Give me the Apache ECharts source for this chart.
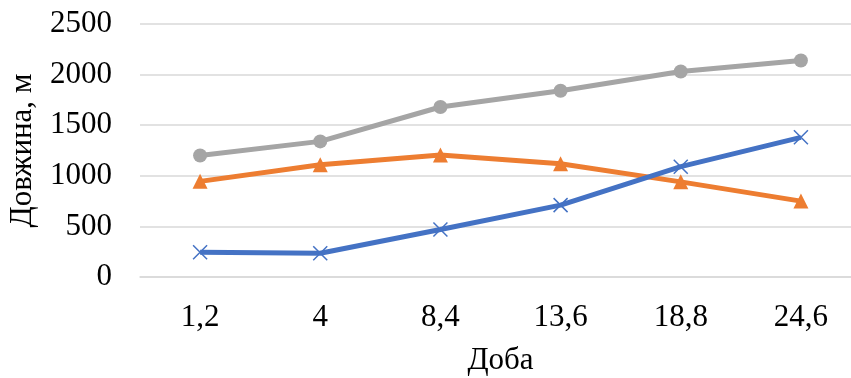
<!DOCTYPE html>
<html>
<head>
<meta charset="utf-8">
<script src="https://cdn.jsdelivr.net/npm/echarts@6/dist/echarts.min.js"></script>
<style>
  html, body { margin: 0; padding: 0; background: #fff; }
  #chart { width: 851px; height: 378px; }
</style>
</head>
<body>
<div id="chart"></div>
<script>
// Days (category labels)
const days = ['1,2', '4', '8,4', '13,6', '18,8', '24,6'];
// Lengths, m
const seriesBlue = [245, 235, 470, 710, 1090, 1380];
const seriesOrange = [945, 1110, 1205, 1120, 940, 750];
const seriesGray = [1200, 1340, 1680, 1840, 2030, 2140];

const yMin = 0, yMax = 2500, yStep = 500;

const font = '"Liberation Serif", "Times New Roman", serif';

const chart = echarts.init(document.getElementById('chart'), null, { renderer: 'canvas' });

function line(data, color, symbol, size) {
  return {
    type: 'line',
    data: data,
    symbol: symbol,
    symbolSize: size,
    showSymbol: true,
    lineStyle: { color: color, width: 5 },
    itemStyle: { color: color },
    emphasis: { disabled: true },
    animation: false
  };
}

chart.setOption({
  animation: false,
  backgroundColor: '#ffffff',
  grid: {
    left: 140, right: -10, top: 24, bottom: 101,
    containLabel: false, outerBoundsMode: 'none'
  },
  xAxis: {
    type: 'category',
    data: days,
    boundaryGap: true,
    axisLine: { show: true, lineStyle: { color: '#d9d9d9', width: 1.5 } },
    axisTick: { show: false },
    axisLabel: { color: '#000', fontFamily: font, fontSize: 31, margin: 25 },
    name: 'Доба',
    nameLocation: 'middle',
    nameGap: 68,
    nameTextStyle: { color: '#000', fontFamily: font, fontSize: 31 }
  },
  yAxis: {
    type: 'value',
    min: yMin,
    max: yMax,
    interval: yStep,
    axisLine: { show: false },
    axisTick: { show: false },
    splitLine: { lineStyle: { color: '#d9d9d9', width: 1.5 } },
    axisLabel: {
      color: '#000', fontFamily: font, fontSize: 31, margin: 28,
      formatter: function (v) { return String(v); }
    },
    name: 'Довжина, м',
    nameLocation: 'middle',
    nameGap: 102,
    nameRotate: 90,
    nameTextStyle: { color: '#000', fontFamily: font, fontSize: 31 }
  },
  series: [
    line(seriesGray, '#a5a5a5', 'circle', 14),
    line(seriesOrange, '#ed7d31', 'triangle', 15),
    Object.assign(line(seriesBlue, '#4472c4', 'path://M0,0L10,10M10,0L0,10', 14), {
      itemStyle: { color: 'none', borderColor: '#4472c4', borderWidth: 1.5 }
    })
  ]
});
</script>
</body>
</html>
